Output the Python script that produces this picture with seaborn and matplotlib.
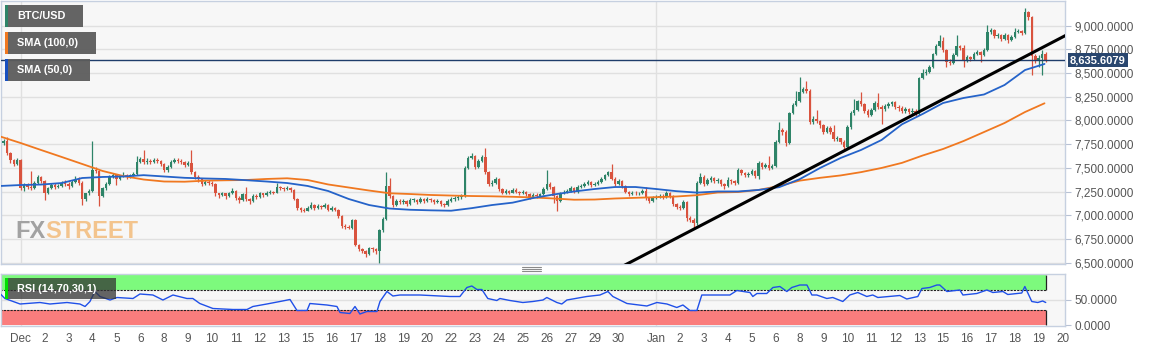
import numpy as np
import pandas as pd
import seaborn as sns
import matplotlib
matplotlib.use('Agg')
import matplotlib.pyplot as plt
import matplotlib.transforms as mtransforms
from matplotlib.patches import Rectangle
from matplotlib.lines import Line2D

# ---- data (BTC/USD, 4h candles) ----
first_open = 7760
closes = [
    7780, 7660, 7580, 7540, 7580, 7290,
    7320, 7300, 7290, 7340, 7400, 7360,
    7230, 7290, 7320, 7300, 7310, 7340,
    7330, 7310, 7350, 7380, 7340, 7170,
    7230, 7260, 7480, 7470, 7200, 7290,
    7330, 7400, 7430, 7380, 7410, 7430,
    7400, 7420, 7440, 7560, 7590, 7560,
    7570, 7560, 7580, 7570, 7540, 7480,
    7510, 7560, 7580, 7570, 7560, 7530,
    7550, 7460, 7400, 7380, 7330, 7350,
    7340, 7330, 7230, 7210, 7230, 7200,
    7230, 7260, 7180, 7160, 7220, 7170,
    7150, 7200, 7190, 7230, 7210, 7240,
    7250, 7240, 7300, 7290, 7280, 7290,
    7270, 7170, 7080, 7060, 7050, 7080,
    7110, 7080, 7100, 7090, 7110, 7060,
    7080, 7060, 6990, 6890, 6880, 6870,
    6950, 6690, 6640, 6620, 6590, 6650,
    6640, 6620, 6840, 6960, 7310, 7200,
    7110, 7150, 7140, 7150, 7120, 7160,
    7160, 7140, 7170, 7150, 7170, 7160,
    7140, 7150, 7120, 7110, 7150, 7170,
    7180, 7190, 7200, 7500, 7600, 7630,
    7510, 7570, 7610, 7460, 7330, 7340,
    7380, 7280, 7240, 7260, 7240, 7270,
    7250, 7230, 7250, 7220, 7190, 7210,
    7200, 7220, 7280, 7330, 7300, 7200,
    7150, 7230, 7240, 7260, 7290, 7250,
    7300, 7310, 7330, 7350, 7320, 7330,
    7350, 7380, 7420, 7460, 7380, 7330,
    7360, 7310, 7250, 7220, 7240, 7230,
    7230, 7260, 7180, 7150, 7180, 7190,
    7200, 7190, 7240, 7200, 7120, 7090,
    7080, 7140, 6970, 6950, 6920, 7340,
    7400, 7330, 7370, 7390, 7360, 7370,
    7330, 7310, 7370, 7360, 7340, 7480,
    7450, 7420, 7440, 7470, 7410, 7550,
    7510, 7530, 7500, 7520, 7770, 7900,
    7880, 7760, 8080, 8160, 8200, 8300,
    8330, 8310, 7980, 8020, 7990, 7950,
    7880, 7920, 7880, 7800, 7810, 7770,
    7720, 7930, 8080, 8110, 8200, 8170,
    8100, 8060, 8110, 8180, 8140, 8120,
    8150, 8170, 8190, 8140, 8130, 8100,
    8120, 8090, 8100, 8070, 8450, 8500,
    8510, 8560, 8700, 8790, 8840, 8740,
    8620, 8610, 8690, 8790, 8760, 8640,
    8670, 8650, 8700, 8720, 8690, 8740,
    8930, 8950, 8890, 8900, 8860, 8900,
    8850, 8880, 8930, 8940, 8920, 9140,
    9090, 8680, 8640, 8660, 8700, 8635.6079,
]
highs = [
    7800, 7830, 7670, 7590, 7600, 7590,
    7340, 7340, 7470, 7360, 7420, 7410,
    7370, 7300, 7340, 7340, 7330, 7360,
    7370, 7350, 7370, 7410, 7400, 7360,
    7240, 7280, 7780, 7510, 7480, 7300,
    7350, 7420, 7450, 7440, 7430, 7460,
    7440, 7440, 7460, 7620, 7610, 7690,
    7600, 7590, 7600, 7600, 7580, 7550,
    7530, 7580, 7600, 7600, 7590, 7570,
    7570, 7690, 7470, 7420, 7390, 7370,
    7370, 7360, 7340, 7240, 7250, 7240,
    7250, 7290, 7270, 7200, 7240, 7300,
    7180, 7220, 7220, 7250, 7240, 7260,
    7270, 7260, 7340, 7310, 7300, 7310,
    7300, 7280, 7180, 7090, 7080, 7100,
    7140, 7120, 7120, 7110, 7130, 7120,
    7100, 7090, 7070, 7000, 6910, 6900,
    6960, 6960, 6700, 6660, 6630, 6670,
    6670, 6660, 6850, 6980, 7460, 7390,
    7210, 7170, 7170, 7170, 7160, 7180,
    7180, 7170, 7190, 7180, 7190, 7180,
    7170, 7170, 7160, 7130, 7170, 7190,
    7200, 7210, 7220, 7520, 7620, 7660,
    7640, 7590, 7640, 7710, 7470, 7370,
    7400, 7390, 7290, 7280, 7270, 7290,
    7290, 7260, 7270, 7260, 7230, 7230,
    7230, 7240, 7300, 7480, 7350, 7310,
    7210, 7250, 7270, 7280, 7310, 7300,
    7320, 7330, 7350, 7370, 7360, 7350,
    7370, 7400, 7440, 7470, 7540, 7400,
    7380, 7370, 7320, 7260, 7260, 7260,
    7250, 7280, 7300, 7190, 7200, 7210,
    7220, 7220, 7260, 7250, 7210, 7130,
    7110, 7160, 7150, 6990, 6970, 7360,
    7450, 7420, 7390, 7410, 7400, 7390,
    7380, 7340, 7400, 7380, 7370, 7500,
    7490, 7460, 7460, 7490, 7480, 7570,
    7560, 7550, 7620, 7540, 7790, 7980,
    7920, 7900, 8090, 8180, 8310, 8460,
    8350, 8420, 8330, 8050, 8110, 8010,
    7960, 7940, 7940, 7950, 7840, 7820,
    7790, 7950, 8100, 8230, 8220, 8300,
    8180, 8120, 8130, 8200, 8290, 8160,
    8170, 8190, 8210, 8200, 8160, 8150,
    8140, 8130, 8130, 8120, 8460, 8540,
    8540, 8580, 8710, 8810, 8900, 8880,
    8750, 8650, 8710, 8900, 8800, 8800,
    8690, 8680, 8720, 8740, 8730, 8760,
    9010, 8970, 8960, 8920, 8910, 8920,
    8910, 8900, 8980, 8960, 8950, 9190,
    9150, 9100, 8700, 8690, 8740, 8720,
]
lows = [
    7740, 7640, 7550, 7520, 7530, 7270,
    7260, 7280, 7270, 7280, 7330, 7340,
    7160, 7220, 7280, 7280, 7290, 7300,
    7310, 7280, 7300, 7340, 7320, 7110,
    7150, 7210, 7250, 7450, 7100, 7190,
    7270, 7320, 7390, 7320, 7370, 7400,
    7380, 7390, 7410, 7430, 7550, 7540,
    7540, 7540, 7550, 7550, 7520, 7460,
    7460, 7500, 7550, 7550, 7540, 7510,
    7520, 7440, 7380, 7350, 7310, 7320,
    7320, 7310, 7200, 7180, 7200, 7170,
    7190, 7220, 7160, 7130, 7150, 7150,
    7120, 7140, 7170, 7180, 7190, 7200,
    7220, 7220, 7230, 7270, 7260, 7270,
    7250, 7160, 7060, 7030, 7030, 7040,
    7070, 7060, 7070, 7070, 7080, 7040,
    7050, 7040, 6970, 6870, 6860, 6850,
    6860, 6680, 6620, 6600, 6560, 6580,
    6610, 6590, 6500, 6820, 6950, 7180,
    7090, 7100, 7120, 7120, 7100, 7110,
    7140, 7120, 7130, 7130, 7140, 7140,
    7120, 7130, 7100, 7090, 7100, 7140,
    7150, 7160, 7170, 7190, 7490, 7590,
    7490, 7500, 7560, 7440, 7310, 7310,
    7330, 7260, 7220, 7220, 7220, 7230,
    7230, 7210, 7220, 7200, 7170, 7180,
    7180, 7190, 7210, 7270, 7280, 7130,
    7040, 7140, 7220, 7230, 7250, 7230,
    7240, 7290, 7300, 7320, 7300, 7310,
    7320, 7340, 7370, 7410, 7370, 7310,
    7320, 7290, 7230, 7200, 7210, 7210,
    7210, 7220, 7160, 7130, 7140, 7170,
    7180, 7170, 7180, 7180, 7100, 7070,
    7060, 7070, 6940, 6930, 6860, 6900,
    7330, 7310, 7320, 7350, 7340, 7340,
    7310, 7280, 7300, 7330, 7320, 7330,
    7430, 7400, 7400, 7430, 7390, 7380,
    7490, 7500, 7480, 7490, 7510, 7760,
    7850, 7730, 7750, 8070, 8150, 8190,
    8290, 8290, 7960, 7960, 7970, 7920,
    7860, 7870, 7860, 7780, 7780, 7750,
    7680, 7700, 7910, 8060, 8100, 8150,
    8080, 8040, 8050, 8100, 8120, 7960,
    8100, 8130, 8150, 8120, 8100, 8080,
    8080, 8070, 8070, 8050, 8060, 8440,
    8480, 8500, 8550, 8690, 8780, 8720,
    8560, 8590, 8600, 8680, 8740, 8560,
    8620, 8630, 8640, 8690, 8620, 8680,
    8730, 8910, 8870, 8870, 8840, 8850,
    8820, 8840, 8870, 8920, 8900, 8910,
    9060, 8480, 8610, 8560, 8480, 8620,
]

# moving averages, sampled once a day (days counted from 1 Dec 2019)
sma_day = list(range(-1, 50)) + [49.95]
sma100 = [7831, 7762, 7688, 7615, 7541, 7467, 7414, 7377, 7356, 7354, 7365, 7369,
          7372, 7383, 7390, 7372, 7325, 7293, 7261, 7232, 7224, 7214, 7208, 7203,
          7200, 7195, 7188, 7177, 7164, 7166, 7177, 7184, 7191, 7198, 7212, 7240,
          7245, 7267, 7309, 7365, 7395, 7420, 7455, 7499, 7553, 7630, 7699, 7783,
          7878, 7973, 8089, 8181]
sma50 = [7309, 7319, 7324, 7340, 7393, 7404, 7409, 7423, 7409, 7395, 7388, 7383,
         7370, 7356, 7340, 7309, 7256, 7172, 7108, 7071, 7058, 7052, 7048, 7075,
         7108, 7133, 7182, 7219, 7251, 7277, 7298, 7298, 7277, 7254, 7239, 7251,
         7251, 7267, 7296, 7380, 7499, 7604, 7689, 7794, 7960, 8068, 8184, 8237,
         8274, 8374, 8532, 8596]

# RSI (14,70,30,1)
rsi_day = [-1.01, -0.77, -0.03, 0.94, 1.43, 2.26, 2.89, 3.14, 3.38, 3.62, 3.87, 4.36,
           4.70, 5.48, 5.82, 6.45, 6.94, 7.43, 8.11, 8.40, 8.74, 9.38, 10.36, 11.04,
           11.33, 12.01, 12.65, 13.14, 13.48, 13.97, 14.11, 14.94, 15.43, 15.58, 16.06,
           16.31, 16.55, 16.89, 17.38, 17.53, 17.87, 18.16, 18.50, 19.48, 20.94, 21.43,
           21.77, 22.01, 22.26, 22.50, 22.79, 23.23, 23.38, 23.87, 24.50, 24.99, 25.48,
           25.67, 26.16, 26.40, 26.65, 27.62, 28.26, 28.65, 28.89, 29.58, 30.55, 31.04,
           31.53, 32.01, 32.31, 32.65, 32.99, 33.23, 34.11, 34.60, 34.94, 35.58, 35.72,
           35.92, 36.40, 36.70, 37.04, 37.38, 37.62, 38.01, 38.36, 38.60, 38.84, 39.33,
           39.62, 40.11, 40.45, 40.84, 41.28, 41.57, 41.82, 42.89, 43.23, 43.77, 43.97,
           44.35, 44.70, 44.84, 45.19, 45.82, 45.97, 46.65, 47.14, 47.43, 47.92, 48.16,
           48.84, 48.99, 49.33, 49.62, 49.86, 50.01]
rsi_val = [63, 53, 42, 45, 42, 45, 42, 37, 47, 67, 57, 50,
           55, 53, 62, 60, 50, 60, 53, 53, 43, 33, 31, 31,
           37, 42, 47, 51, 29, 29, 43, 40, 37, 25, 23,
           37, 22, 27, 27, 47, 67, 58, 60, 60, 57, 57,
           75, 78, 71, 71, 53, 49, 53, 49, 45, 47, 50,
           55, 45, 42, 50, 57, 60, 67, 57, 43, 38, 45,
           42, 35, 40, 29, 29, 60, 60, 60, 69, 65, 57,
           63, 63, 75, 77, 67, 75, 80, 80, 60, 60, 53,
           55, 47, 60, 65, 57, 60, 55, 59, 52, 57, 73,
           75, 80, 80, 67, 70, 60, 63, 70, 65, 67, 61,
           64, 77, 47, 45, 48, 45]

trend_day = [29.0, 51.0]
trend_price = [6421, 8899]

price_ticks = [6500, 6750, 7000, 7250, 7500, 7750, 8000, 8250, 8500, 8750, 9000]

# ---- derived ----
times = pd.date_range('2019-11-30 04:00', periods=len(closes), freq='4h')
days = ((times - pd.Timestamp('2019-12-01')) / pd.Timedelta('1D')).to_numpy()
c = np.array(closes, dtype=float)
o = np.concatenate([[first_open], c[:-1]])
hi = np.maximum(np.array(highs, float), np.maximum(o, c))
lo = np.minimum(np.array(lows, float), np.minimum(o, c))

tick_times = list(pd.date_range('2019-12-01', periods=26, freq='28h')) + \
             list(pd.date_range('2020-01-01', periods=18, freq='28h'))
tick_pos = [(t - pd.Timestamp('2019-12-01')) / pd.Timedelta('1D') for t in tick_times]
tick_lab = [t.strftime('%b') if (t.day == 1 and t.hour == 0) else str(t.day) for t in tick_times]

# ---- style ----
sns.set_style('white')
plt.rcParams['font.family'] = ['Liberation Sans', 'DejaVu Sans']

UP, DOWN = '#2e8468', '#d9533e'
GRID = '#e0e0e0'
SPINE = '#c6d0e0'
TXT = '#555555'
NAVY = '#1f3d6b'

W, H = 1153, 352
fig = plt.figure(figsize=(W / 100, H / 100), dpi=100)
ax = fig.add_axes([1 / W, (H - 264) / H, 1064 / W, 263 / H])
rx = fig.add_axes([1 / W, (H - 326) / H, 1064 / W, 52 / H])

for a in (ax, rx):
    a.set_facecolor('#f7f7f7')
    a.set_xlim(-0.96, 50.95)
    for s in a.spines.values():
        s.set_color(SPINE)
        s.set_linewidth(1)
    a.set_axisbelow(True)
    for m in (0, 31):
        a.axvline(m, color=GRID, lw=1, zorder=0.5)
    a.yaxis.tick_right()
    a.tick_params(axis='y', length=4, color='#b8c2d4', labelcolor=TXT, labelsize=8.5, pad=2.5)

# ---- price panel ----
ax.set_ylim(6486, 9260)
ax.set_yticks(price_ticks)
ax.set_yticklabels([f'{v:,.4f}' for v in price_ticks])
ax.grid(axis='y', color=GRID, lw=1)
ax.set_xticks([])

cols = np.where(c >= o, UP, DOWN)
ax.vlines(days, lo, hi, colors=cols, lw=0.9, zorder=2)
body = np.maximum(np.abs(c - o), 10)
ax.bar(days, body, bottom=np.minimum(o, c), width=0.12, color=cols, lw=0, zorder=3)

sns.lineplot(x=sma_day, y=sma100, ax=ax, color='#f07820', lw=1.3, sort=False, zorder=4)
sns.lineplot(x=sma_day, y=sma50, ax=ax, color='#2563c9', lw=1.3, sort=False, zorder=4)
ax.plot(trend_day, trend_price, color='black', lw=2.2, zorder=5, solid_capstyle='butt')

last = closes[-1]
ax.axhline(last, color=NAVY, lw=1, zorder=4)
blend = mtransforms.blended_transform_factory(ax.transAxes, ax.transData)
ax.text(1.0045, last, f'{last:,.4f}', transform=blend, ha='left', va='center',
        color='white', fontsize=8.0, fontweight='bold', clip_on=False,
        bbox=dict(boxstyle='square,pad=0.2', fc='#29466e', ec='none'))
ax.set_xlabel('')
ax.set_ylabel('')

# ---- RSI panel ----
rx.set_ylim(-2, 102)
rx.set_yticks([0, 50])
rx.set_yticklabels([f'{v:,.4f}' for v in (0, 50)])
rx.axhline(50, color=GRID, lw=1, zorder=0.5)
d0, d1 = rsi_day[0], rsi_day[-1]
rx.fill_between([d0, d1], 70, 100, color='#7dfa7d', lw=0, zorder=1)
rx.fill_between([d0, d1], 0, 30, color='#fa7d7d', lw=0, zorder=1)
rx.hlines([70, 30], d0, d1, colors='#222222', lw=0.8, linestyles=(0, (2, 1)), zorder=2)
rx.vlines([d0, d1, d0, d1], [70, 70, 0, 0], [100, 100, 30, 30], colors='#222222', lw=0.9, zorder=2)
sns.lineplot(x=rsi_day, y=rsi_val, ax=rx, color='#2050e8', lw=1, sort=False, zorder=3)
rx.set_xticks(tick_pos)
rx.set_xticklabels(tick_lab)
rx.tick_params(axis='x', length=3, color='#b8c2d4', labelcolor=TXT, labelsize=8.5, pad=2)
rx.set_xlabel('')
rx.set_ylabel('')


# ---- overlay labels (figure pixel coords) ----
def fx(px):
    return px / W


def fy(py):
    return 1 - py / H


def label_box(x0, y0, w, h, text, strip, fc='#5c5c5c', alpha=0.95):
    fig.add_artist(Rectangle((fx(x0), fy(y0 + h)), w / W, h / H, transform=fig.transFigure,
                             fc=fc, ec='none', alpha=alpha, zorder=6))
    fig.add_artist(Rectangle((fx(x0), fy(y0 + h)), 3 / W, h / H, transform=fig.transFigure,
                             fc=strip, ec='none', zorder=7))
    fig.text(fx(x0 + 12), fy(y0 + h / 2), text, color='white', fontsize=7.8,
             fontweight='bold', ha='left', va='center', zorder=8)


label_box(5, 5, 78, 22, 'BTC/USD', '#2e8468')
label_box(5, 32, 91, 22, 'SMA (100,0)', '#f07820')
label_box(5, 59, 85, 22, 'SMA (50,0)', '#1750c0')
label_box(5, 278, 111, 21, 'RSI (14,70,30,1)', '#00e000', fc='#333333', alpha=0.75)

# watermark: "FX" grey then "STREET" light orange, placed right after
wm = fig.text(fx(15), fy(231), 'FX', color='#a2a2a2', fontsize=17, fontweight='bold',
              ha='left', va='center', zorder=6)
fig.canvas.draw()
bb = wm.get_window_extent()
fig.text(bb.x1 / W, fy(231), 'STREET', color='#f3c48d', fontsize=17, fontweight='bold',
         ha='left', va='center', zorder=6)

for gy in (266.5, 268.5, 270.5):
    fig.add_artist(Line2D([fx(522), fx(541)], [fy(gy), fy(gy)], color='#8a8a8a', lw=0.8))

fig.savefig('out.png', dpi=100, facecolor='white')
